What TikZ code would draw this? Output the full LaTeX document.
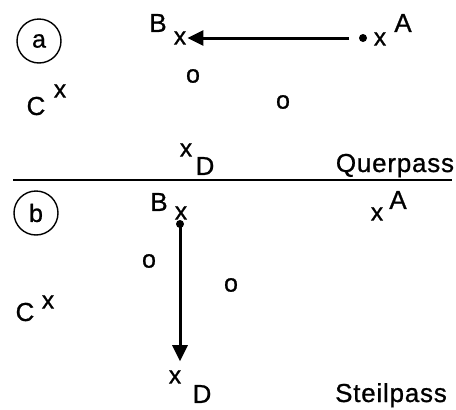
\documentclass[tikz,border=0pt]{standalone}
\usepackage{fontspec}
\setmainfont{Liberation Sans}[FakeBold=0.8]
\newfontfamily\wordfont{Liberation Sans}[LetterSpace=3,FakeBold=0.8]
\usetikzlibrary{arrows.meta}
\begin{document}
\begin{tikzpicture}[x=1pt,y=-1pt,
  lbl/.style={inner sep=0pt, font=\fontsize{26}{26}\selectfont},
  mk/.style={inner sep=0pt, font=\fontsize{25}{25}\selectfont},
  word/.style={inner sep=0pt, anchor=base, font=\fontsize{26}{26}\wordfont},
  panel/.style={draw, circle, line width=1.4pt, minimum size=44pt, inner sep=0pt, font=\fontsize{25}{25}\selectfont},
  dotmark/.style={circle, fill, inner sep=0pt, minimum size=8pt},
  movearrow/.style={line width=3pt, -{Triangle[length=16pt,width=15pt]}},
  divider/.style={line width=1.8pt}]
\useasboundingbox (0,0) rectangle (456,410);
% panel a
\node[panel] (pa) at (39,41) {a};
\node[lbl] (Ba) at (158,23) {B};
\node[mk] (Bxa) at (180,38) {x};
\node[dotmark] (dotA) at (363,38) {};
\node[mk] (Axa) at (380,39) {x};
\node[lbl] (Aa) at (403,23) {A};
\node[lbl] (Ca) at (36,106) {C};
\node[mk] (Cxa) at (60,91) {x};
\node[mk] (o1a) at (193,76) {o};
\node[mk] (o2a) at (283,102) {o};
\node[mk] (Dxa) at (186,150) {x};
\node[lbl] (Da) at (205,166) {D};
\node[word] (qp) at (395,172) {Querpass};
\draw[movearrow, shorten <=14pt, shorten >=1pt] (dotA.center) -- (Bxa.east |- dotA);
% divider
\coordinate (dl) at (13,180);
\coordinate (dr) at (452,180);
\draw[divider] (dl) -- (dr);
% panel b
\node[panel] (pb) at (36,213) {b};
\node[lbl] (Bb) at (159,202) {B};
\node[mk] (Bxb) at (181,213) {x};
\node[dotmark] (dotB) at (180,224) {};
\node[mk] (Axb) at (377,214) {x};
\node[lbl] (Ab) at (398,200) {A};
\node[mk] (o1b) at (149,261) {o};
\node[mk] (o2b) at (231,285) {o};
\node[lbl] (Cb) at (25,312) {C};
\node[mk] (Cxb) at (48,302) {x};
\node[mk] (Dxb) at (175,377) {x};
\node[lbl] (Db) at (202,394) {D};
\node[word] (sp) at (391,402) {Steilpass};
\draw[movearrow, shorten >=9pt] (dotB.center) -- (dotB |- Dxb.north);
\end{tikzpicture}
\end{document}
